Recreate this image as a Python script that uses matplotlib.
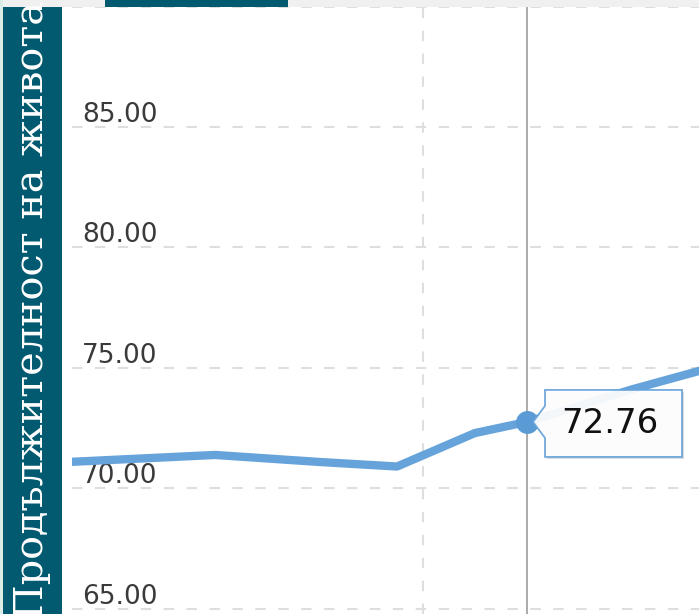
import matplotlib.pyplot as plt
import matplotlib.patches as patches
from matplotlib.transforms import ScaledTranslation

# Data
years = [1998, 2004, 2008, 2011, 2014, 2016, 2020, 2023]
life_exp = [71.08, 71.39, 71.10, 70.91, 72.30, 72.76, 74.10, 74.99]
y_grid = [65, 70, 75, 80, 85, 90]
y_labels = [65, 70, 75, 80, 85]
x_grid = [2012]
hover_year = 2016
hover_value = 72.76
axis_title = 'Продължителност на живота'

W, H = 699, 614
teal = '#015a70'
line_color = '#66a3da'

fig = plt.figure(figsize=(W / 100, H / 100), dpi=100)
ax = fig.add_axes([72 / W, 0, (W - 72) / W, 1])
ax.set_xlim(1998.5, 2022.615)
ax.set_ylim(64.79, 90.27)
ax.axis('off')

# grid
for v in y_grid:
    ax.axhline(v, color='#dedede', lw=1.5, ls=(0, (5, 6)), zorder=1)
for v in y_labels:
    ax.text(10 / (W - 72), v + 5 / 24.1, f'{v:.2f}', transform=ax.get_yaxis_transform(),
            ha='left', va='baseline', fontsize=19, color='#3a3a3a',
            family='DejaVu Sans', zorder=2)
for xv in x_grid:
    ax.plot([xv, xv], [64.79, 90], color='#dedede', lw=1.5, ls=(0, (5, 6)), zorder=1)

# crosshair
ax.plot([hover_year, hover_year], [64.79, 90], color='#aaaaaa', lw=1.4, zorder=2)

# series
ax.plot(years, life_exp, color=line_color, lw=6, solid_joinstyle='round',
        solid_capstyle='round', zorder=3)
ax.plot([hover_year], [hover_value], 'o', ms=15.5, color='#5b9bd5', zorder=4)

# callout box (pixel offsets from the hovered point)
trans = fig.dpi_scale_trans + ScaledTranslation(hover_year, hover_value, ax.transData)
pts = [(18, 32), (155, 32), (155, -35), (18, -35), (18, -16), (6, 0), (18, 16)]
pts_in = [(px / 100, py / 100) for px, py in pts]
shadow = patches.Polygon([(px + 0.02, py - 0.02) for px, py in pts_in], closed=True,
                         transform=trans, facecolor='#999999', edgecolor='none',
                         alpha=0.35, zorder=5)
ax.add_patch(shadow)
box = patches.Polygon(pts_in, closed=True, transform=trans, facecolor='white',
                      edgecolor=line_color, lw=1.3, alpha=0.93, zorder=6)
ax.add_patch(box)
ax.text(0.83, -0.11, f'{hover_value:.2f}', transform=trans, ha='center', va='baseline',
        fontsize=24.5, color='#111111', family='DejaVu Sans', zorder=7)

# frame pieces around the crop
fig.patches.append(patches.Rectangle((0, 1 - 7 / H), 1, 7 / H, transform=fig.transFigure,
                                     facecolor='#f0f0f0', edgecolor='none', zorder=10))
fig.patches.append(patches.Rectangle((105 / W, 1 - 7 / H), 183 / W, 7 / H,
                                     transform=fig.transFigure, facecolor=teal,
                                     edgecolor='none', zorder=11))
fig.patches.append(patches.Rectangle((0, 0), 3 / W, 1, transform=fig.transFigure,
                                     facecolor='#dcece6', edgecolor='none', zorder=10))
fig.patches.append(patches.Rectangle((3 / W, 0), 59 / W, 1 - 7 / H,
                                     transform=fig.transFigure, facecolor=teal,
                                     edgecolor='none', zorder=10))
fig.text(43 / W, 1 - 619 / H, axis_title, rotation=90, rotation_mode='anchor',
         ha='left', va='baseline', fontsize=28.6, color='white',
         family='DejaVu Serif', zorder=12)

fig.savefig('out.png', dpi=100)
